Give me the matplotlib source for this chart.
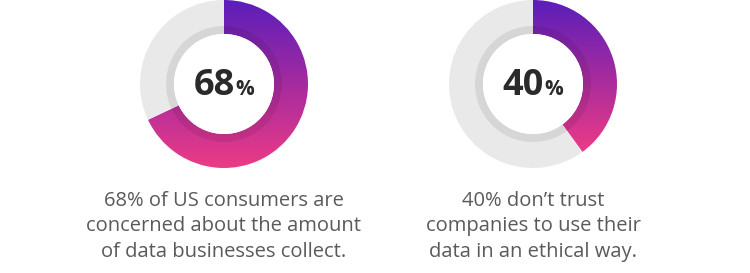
import numpy as np
import matplotlib.pyplot as plt
from matplotlib.patches import Wedge, Circle
from matplotlib.colors import LinearSegmentedColormap

# Data
shares = [68, 40]
captions = [
    "68% of US consumers are\nconcerned about the amount\nof data businesses collect.",
    "40% don\u2019t trust\ncompanies to use their\ndata in an ethical way.",
]

W, H = 750, 273
centers_x = [224, 533]
center_y = H - 84
r_out, r_in = 84, 50
shadow_w = 8

grad = LinearSegmentedColormap.from_list("g", ["#5b1eba", "#a52b9f", "#ec3b86"])

fig = plt.figure(figsize=(W / 100, H / 100), dpi=100)
ax = fig.add_axes([0, 0, 1, 1])
ax.set_xlim(0, W)
ax.set_ylim(0, H)
ax.set_aspect("equal")
ax.axis("off")

for cx, p, cap in zip(centers_x, shares, captions):
    sweep = 360 * p / 100
    # grey remainder
    ax.add_patch(Wedge((cx, center_y), r_out, 90, 90 - sweep + 360,
                       width=r_out - r_in, facecolor="#e9e9e9", edgecolor="none"))
    # coloured arc with vertical gradient (purple top -> pink bottom)
    arc = Wedge((cx, center_y), r_out, 90 - sweep, 90,
                width=r_out - r_in, facecolor="none", edgecolor="none")
    ax.add_patch(arc)
    ang = np.radians(np.linspace(90 - sweep, 90, 200))
    ys = np.concatenate([center_y + r_out * np.sin(ang), center_y + r_in * np.sin(ang)])
    y_lo, y_hi = ys.min(), ys.max()
    img = np.linspace(0, 1, 256).reshape(-1, 1)
    im = ax.imshow(img, cmap=grad, extent=(cx - r_out, cx + r_out, y_lo, y_hi),
                   origin="upper", aspect="auto", interpolation="bilinear")
    im.set_clip_path(arc)
    # inner shadow ring
    ax.add_patch(Wedge((cx, center_y), r_in + shadow_w, 0, 360, width=shadow_w,
                       facecolor="black", alpha=0.08, edgecolor="none"))
    ax.add_patch(Circle((cx, center_y), r_in, facecolor="white", edgecolor="none"))

    # big number + small percent sign
    base_y = H - 95
    t1 = ax.text(cx, base_y, str(p), ha="left", va="baseline",
                 fontsize=26, fontweight="bold", family="Open Sans", color="#2a2a2a")
    t2 = ax.text(cx, base_y, "%", ha="left", va="baseline",
                 fontsize=15, fontweight="bold", family="Open Sans", color="#2a2a2a")
    fig.canvas.draw()
    r = fig.canvas.get_renderer()
    w1 = t1.get_window_extent(r).width
    w2 = t2.get_window_extent(r).width
    gap = 1
    x0 = cx - (w1 + w2 + gap) / 2
    t1.set_x(x0)
    t2.set_x(x0 + w1 + gap)

    ax.text(cx, H - 191, cap, ha="center", va="top", fontsize=14.5,
            family="Open Sans", color="#5a5a5a", linespacing=1.36)

fig.savefig("out.png", dpi=100)
